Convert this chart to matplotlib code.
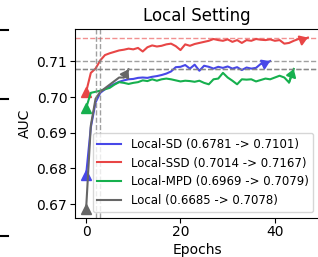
import matplotlib
matplotlib.use("Agg")
import matplotlib.pyplot as plt
from matplotlib.lines import Line2D
import numpy as np

# AUC per epoch
auc_sd = [0.6781, 0.6915, 0.6985, 0.7012, 0.7022, 0.7030, 0.7037, 0.7043, 0.7047, 0.7050,
          0.7051, 0.7054, 0.7055, 0.7054, 0.7057, 0.7059, 0.7062, 0.7066, 0.7072, 0.7084,
          0.7085, 0.7090, 0.7080, 0.7091, 0.7074, 0.7088, 0.7085, 0.7080, 0.7085, 0.7082,
          0.7086, 0.7080, 0.7084, 0.7076, 0.7083, 0.7080, 0.7082, 0.7093, 0.7095, 0.7101]
auc_ssd = [0.7014, 0.7068, 0.7080, 0.7103, 0.7118, 0.7123, 0.7127, 0.7131, 0.7133, 0.7136,
           0.7134, 0.7138, 0.7128, 0.7140, 0.7145, 0.7142, 0.7144, 0.7148, 0.7150, 0.7143,
           0.7132, 0.7148, 0.7144, 0.7149, 0.7152, 0.7155, 0.7158, 0.7163, 0.7160, 0.7158,
           0.7162, 0.7155, 0.7160, 0.7152, 0.7160, 0.7158, 0.7163, 0.7161, 0.7160, 0.7162,
           0.7158, 0.7160, 0.7150, 0.7152, 0.7158, 0.7163, 0.7162, 0.7167]
auc_mpd = [0.6969, 0.7012, 0.7015, 0.7018, 0.7022, 0.7026, 0.7035, 0.7042, 0.7040, 0.7037,
           0.7040, 0.7042, 0.7047, 0.7045, 0.7050, 0.7046, 0.7050, 0.7052, 0.7050, 0.7047,
           0.7044, 0.7046, 0.7045, 0.7043, 0.7046, 0.7040, 0.7036, 0.7050, 0.7052, 0.7068,
           0.7055, 0.7046, 0.7036, 0.7050, 0.7049, 0.7050, 0.7044, 0.7048, 0.7052, 0.7050,
           0.7055, 0.7060, 0.7055, 0.7041, 0.7079]
auc_local = [0.6685, 0.6920, 0.6995, 0.7015, 0.7025, 0.7035, 0.7045, 0.7055, 0.7055, 0.7078]

names = ["Local-SD", "Local-SSD", "Local-MPD", "Local"]
series = [auc_sd, auc_ssd, auc_mpd, auc_local]
colors = ["#4848e8", "#e84646", "#16b04e", "#666666"]

fig = plt.figure(figsize=(3.18, 2.57), dpi=100)
ax = fig.add_axes([75 / 318, 39 / 257, 244 / 318, 189 / 257])

for name, vals, c in zip(names, series, colors):
    ep = np.arange(len(vals))
    ax.plot(ep, vals, color=c, lw=1.5,
            label=f"{name} ({vals[0]:.4f} -> {vals[-1]:.4f})")
    ax.plot(ep[0], vals[0], marker="^", color=c, ms=7)
    ax.annotate("", xy=(ep[-1], vals[-1]), xytext=(ep[-2], vals[-2]),
                arrowprops=dict(arrowstyle="-|>,head_length=0.45,head_width=0.3",
                                color=c, lw=1.5, shrinkA=0, shrinkB=0,
                                mutation_scale=10))

# reference levels: final values of the other methods
ax.axhline(auc_ssd[-1], color="#e84646", ls="--", lw=1, alpha=0.6)
for v in [auc_sd[-1], auc_local[-1], auc_mpd[-1]]:
    ax.axhline(v, color="gray", ls="--", lw=1, alpha=0.75)
# first epoch where SSD passes the baseline / SD final values
for v in [auc_local[-1], auc_sd[-1]]:
    ax.axvline(int(np.argmax(np.array(auc_ssd) >= v)), color="gray", ls="--", lw=1, alpha=0.75)

ax.set_xticks([0, 20, 40])
ax.set_yticks([0.67, 0.68, 0.69, 0.70, 0.71])
ax.tick_params(axis="x", labelsize=10, pad=1.5)
ax.tick_params(axis="y", labelsize=10, pad=2)
ax.set_xlabel("Epochs", fontsize=10, labelpad=3)
ax.set_ylabel("AUC", fontsize=10, labelpad=3)
ax.set_title("Local Setting", fontsize=12)
ax.legend(loc="lower right", fontsize=8.5)

# bits of the neighbouring panel cut off at the left edge
for yp in [30, 99, 236]:
    fig.add_artist(Line2D([0, 8 / 318], [1 - yp / 257] * 2,
                          transform=fig.transFigure, color="black", lw=1.5))

fig.savefig("out.png", dpi=100)
